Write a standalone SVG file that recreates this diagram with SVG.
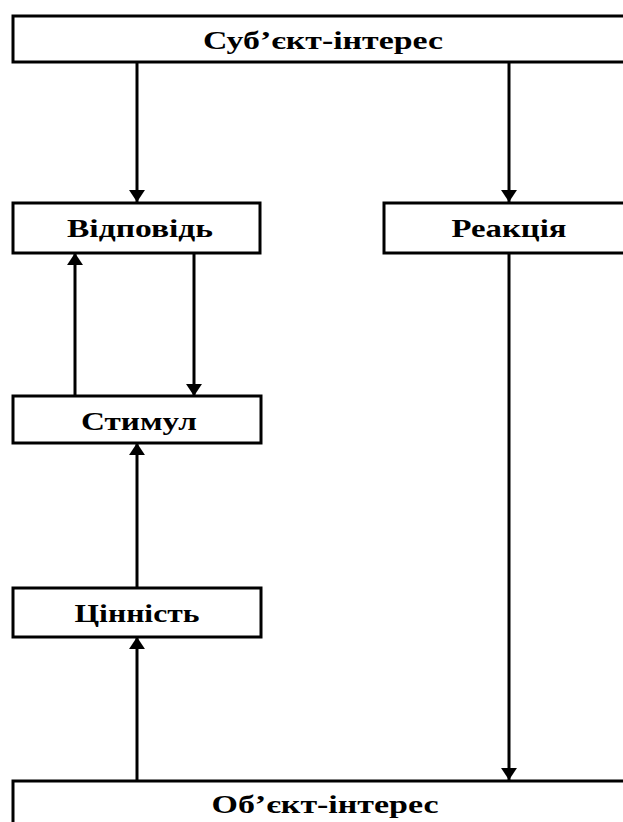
<svg xmlns="http://www.w3.org/2000/svg" width="623" height="822" viewBox="0 0 623 822">
<defs>
<style>
.box{fill:#fff;stroke:#000;stroke-width:3}
.lbl{font-family:"Liberation Serif","Times New Roman",serif;font-size:26px;font-weight:bold;text-anchor:middle;fill:#000}
.ln{stroke:#000;stroke-width:3;fill:none}
</style>
<marker id="ah" viewBox="0 0 12 16" refX="12" refY="8" markerWidth="4" markerHeight="5.3" markerUnits="strokeWidth" orient="auto">
<path d="M0,0 L12,8 L0,16 Z" fill="#000"/>
</marker>
</defs>
<rect width="623" height="822" fill="#fff"/>
<g id="connectors">
<line class="ln" x1="137" y1="62" x2="137" y2="202" marker-end="url(#ah)"/>
<line class="ln" x1="509" y1="62" x2="509" y2="202" marker-end="url(#ah)"/>
<line class="ln" x1="194" y1="253" x2="194" y2="396" marker-end="url(#ah)"/>
<line class="ln" x1="75" y1="396" x2="75" y2="253" marker-end="url(#ah)"/>
<line class="ln" x1="137" y1="588" x2="137" y2="443" marker-end="url(#ah)"/>
<line class="ln" x1="137" y1="780" x2="137" y2="637" marker-end="url(#ah)"/>
<line class="ln" x1="509" y1="253" x2="509" y2="780" marker-end="url(#ah)"/>
</g>
<g id="subject">
<rect class="box" x="13" y="16" width="622" height="46"/>
<text class="lbl" x="323" y="49" textLength="240" lengthAdjust="spacingAndGlyphs">Суб’єкт-інтерес</text>
</g>
<g id="vidpovid">
<rect class="box" x="13" y="203" width="247" height="50"/>
<text class="lbl" x="140" y="237" textLength="146" lengthAdjust="spacingAndGlyphs">Відповідь</text>
</g>
<g id="reakcia">
<rect class="box" x="384" y="203" width="250" height="50"/>
<text class="lbl" x="509" y="237" textLength="115" lengthAdjust="spacingAndGlyphs">Реакція</text>
</g>
<g id="stimul">
<rect class="box" x="13" y="396" width="248" height="47"/>
<text class="lbl" x="139" y="430" textLength="116" lengthAdjust="spacingAndGlyphs">Стимул</text>
</g>
<g id="cinnist">
<rect class="box" x="13" y="588" width="248" height="49"/>
<text class="lbl" x="137" y="622" textLength="125" lengthAdjust="spacingAndGlyphs">Цінність</text>
</g>
<g id="object">
<rect class="box" x="13" y="781" width="622" height="60"/>
<text class="lbl" x="325" y="813" textLength="227" lengthAdjust="spacingAndGlyphs">Об’єкт-інтерес</text>
</g>
</svg>
